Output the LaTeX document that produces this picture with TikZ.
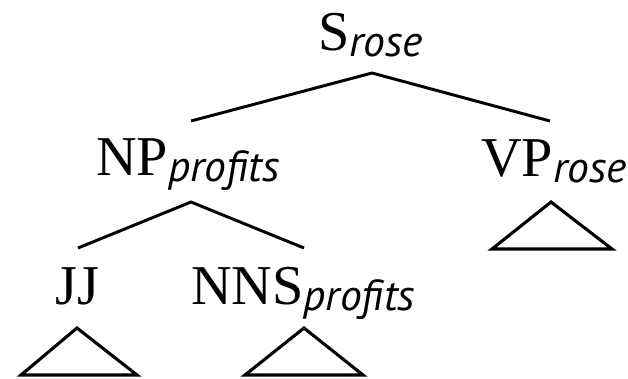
\documentclass[tikz,border=0pt]{standalone}
\usepackage{fontspec}
\setmainfont{Liberation Serif}
\newfontfamily\headfont{PT Sans}
\usetikzlibrary{positioning}
\newcommand{\cat}[2]{#1\raisebox{-4.8pt}{\headfont\itshape\fontsize{31}{31}\selectfont #2}}

\begin{document}
\begin{tikzpicture}[
  x=0.025cm,y=-0.025cm,
  cat/.style={anchor=base west,inner sep=0pt,font=\fontsize{40}{40}\selectfont},
  branch/.style={line width=2.1pt},
  tri/.style={line width=2.2pt,line join=miter}
]
\useasboundingbox (0,0) rectangle (628,378);
% categories
\node[cat] (s) at (318,50) {\cat{S}{rose}};
\node[cat] (np) at (96,175) {\cat{NP}{profits}};
\node[cat] (vp) at (481,176) {\cat{VP}{rose}};
\node[cat] (jj) at (55,304) {JJ};
\node[cat] (nns) at (191,304) {\cat{NNS}{profits}};
% branch points
\coordinate (s-top) at (372,73);
\coordinate (s-left) at (191,121);
\coordinate (s-right) at (550,121);
\coordinate (np-top) at (191,202);
\coordinate (np-left) at (78,248);
\coordinate (np-right) at (304,248);
\coordinate (vp-top) at (551,202);
\coordinate (jj-top) at (77,328);
\coordinate (nns-top) at (304,328);
% edges
\draw[branch] (s-left) -- (s-top) -- (s-right);
\draw[branch] (np-left) -- (np-top) -- (np-right);
% collapsed subtrees
\draw[tri] (vp-top) -- ++(-59,47) -- ++(120,0) -- cycle;
\draw[tri] (jj-top) -- ++(-56,47) -- ++(116,0) -- cycle;
\draw[tri] (nns-top) -- ++(-59,47) -- ++(118,0) -- cycle;
\end{tikzpicture}
\end{document}
